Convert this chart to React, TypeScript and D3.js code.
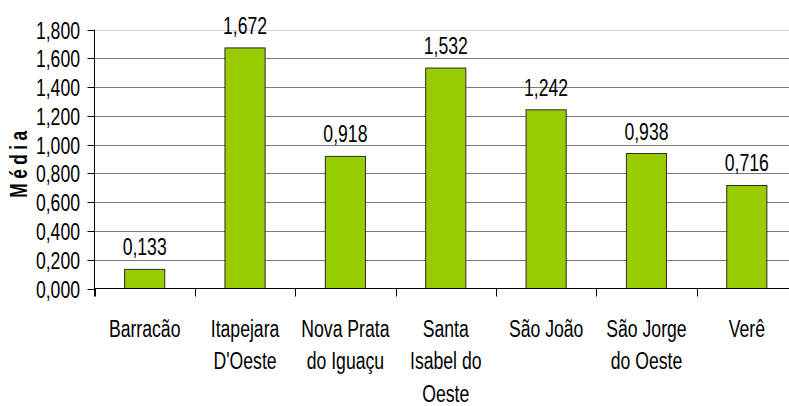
import React from "react";
import * as d3 from "d3";

const categories: string[][] = [
  ["Barracão"],
  ["Itapejara", "D'Oeste"],
  ["Nova Prata", "do Iguaçu"],
  ["Santa", "Isabel do", "Oeste"],
  ["São João"],
  ["São Jorge", "do Oeste"],
  ["Verê"],
];
const values: number[] = [0.133, 1.672, 0.918, 1.532, 1.242, 0.938, 0.716];
const yTicks: number[] = [0, 0.2, 0.4, 0.6, 0.8, 1.0, 1.2, 1.4, 1.6, 1.8];
const yTitle = "Média";

const W = 789;
const H = 406;
const left = 94.5;
const right = 797;
const top = 29.5;
const bottom = 288.5;
const FONT = "'Liberation Sans', Arial, sans-serif";
const FS = 23.5;
const SX = 0.75;

const fmt = (v: number) => v.toFixed(3).replace(".", ",");

function T(props: { x: number; y: number; anchor: string; children: React.ReactNode }) {
  return (
    <text
      transform={`translate(${props.x},${props.y}) scale(${SX},1)`}
      textAnchor={props.anchor}
      fontFamily={FONT}
      fontSize={FS}
      fill="#000"
    >
      {props.children}
    </text>
  );
}

export default function App() {
  const keys = categories.map((c) => c.join(" "));
  const x = d3.scaleBand<string>().domain(keys).range([left, right]).padding(0);
  const y = d3.scaleLinear().domain([0, 1.8]).range([bottom, top]);
  const bw = x.bandwidth() * 0.4;

  return (
    <svg width={W} height={H} style={{ position: "absolute", left: 0, top: 0, background: "#fff" }}>
      {yTicks.map((t) => (
        <g key={t}>
          {t > 0 && (
            <line
              x1={left}
              x2={W}
              y1={Math.round(y(t)) + 0.5}
              y2={Math.round(y(t)) + 0.5}
              stroke={t === 1.8 ? "#d4d4d4" : "#7a7a7a"}
              strokeWidth={1}
            />
          )}
          <line x1={left - 7} x2={left} y1={Math.round(y(t)) + 0.5} y2={Math.round(y(t)) + 0.5} stroke="#000" />
          <T x={80} y={Math.round(y(t)) + 8.5} anchor="end">
            {fmt(t)}
          </T>
        </g>
      ))}
      {keys.map((k, i) => {
        const cx = (x(k) as number) + x.bandwidth() / 2;
        const v = values[i];
        return (
          <g key={k}>
            <rect
              x={cx - bw / 2}
              y={y(v)}
              width={bw}
              height={bottom - y(v)}
              fill="#99cc00"
              stroke="#2b2b2b"
              strokeWidth={1}
            />
            <T x={cx} y={y(v) - 14} anchor="middle">
              {fmt(v)}
            </T>
            {categories[i].map((line, j) => (
              <T key={j} x={cx} y={336.5 + j * 32.5} anchor="middle">
                {line}
              </T>
            ))}
          </g>
        );
      })}
      {keys.map((k) => (
        <line
          key={"t" + k}
          x1={Math.round(x(k) as number) + 0.5}
          x2={Math.round(x(k) as number) + 0.5}
          y1={bottom}
          y2={bottom + 8}
          stroke="#000"
        />
      ))}
      <line x1={left} x2={left} y1={top} y2={bottom + 8} stroke="#000" />
      <line x1={left} x2={W} y1={bottom} y2={bottom} stroke="#000" />
      <text
        transform={`translate(27, ${(top + bottom) / 2 + 3}) rotate(-90) scale(${SX},1)`}
        textAnchor="middle"
        fontFamily={FONT}
        fontSize={23}
        fontWeight="bold"
        letterSpacing={6}
        fill="#000"
      >
        {yTitle}
      </text>
    </svg>
  );
}
